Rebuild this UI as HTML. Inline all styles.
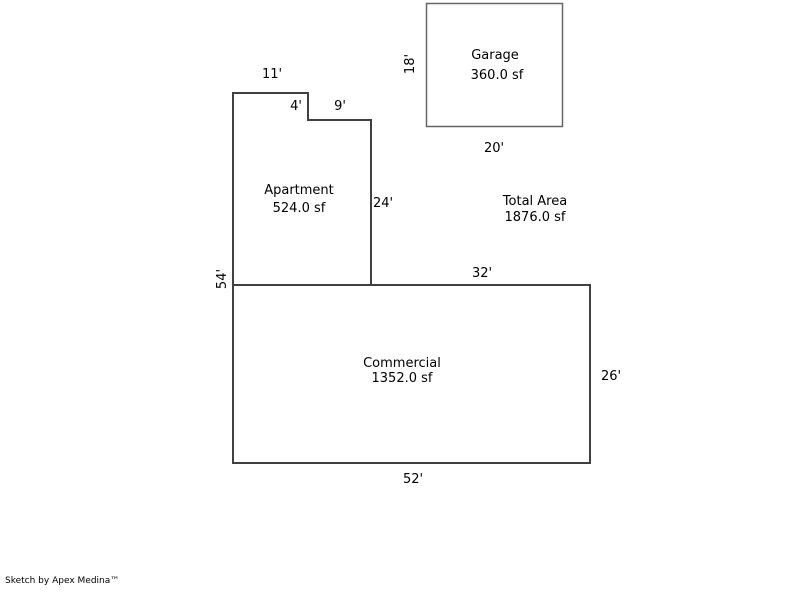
<!DOCTYPE html>
<html><head><meta charset="utf-8"><style>
html,body{margin:0;padding:0;background:#fff;}
svg text{font-family:"DejaVu Sans","Liberation Sans",sans-serif;font-size:13px;fill:#000;}
</style></head><body>
<svg width="800" height="587" viewBox="0 0 800 587" xmlns="http://www.w3.org/2000/svg">
<rect x="426.5" y="3.5" width="136" height="123" fill="none" stroke="#666" stroke-width="1.5"/>
<polyline points="233,285 233,93 308,93 308,120 371,120 371,285" fill="none" stroke="#404040" stroke-width="2"/>
<rect x="233" y="285" width="357" height="178" fill="none" stroke="#404040" stroke-width="2"/>
<text x="495" y="59" text-anchor="middle">Garage</text>
<text x="497" y="79" text-anchor="middle">360.0 sf</text>
<text x="410" y="64" text-anchor="middle" transform="rotate(-90 410 64)" dy="4">18'</text>
<text x="494" y="152" text-anchor="middle">20'</text>
<text x="272" y="78" text-anchor="middle">11'</text>
<text x="296" y="110" text-anchor="middle">4'</text>
<text x="340" y="110" text-anchor="middle">9'</text>
<text x="299" y="194" text-anchor="middle">Apartment</text>
<text x="299" y="212" text-anchor="middle">524.0 sf</text>
<text x="383" y="207" text-anchor="middle">24'</text>
<text x="535" y="205" text-anchor="middle">Total Area</text>
<text x="535" y="221" text-anchor="middle">1876.0 sf</text>
<text x="482" y="277" text-anchor="middle">32'</text>
<text x="222" y="279" text-anchor="middle" transform="rotate(-90 222 279)" dy="4">54'</text>
<text x="402" y="367" text-anchor="middle">Commercial</text>
<text x="402" y="382" text-anchor="middle">1352.0 sf</text>
<text x="611" y="380" text-anchor="middle">26'</text>
<text x="413" y="483" text-anchor="middle">52'</text>
<text x="5" y="583" style="font-size:9px">Sketch by Apex Medina™</text>
</svg>
</body></html>
